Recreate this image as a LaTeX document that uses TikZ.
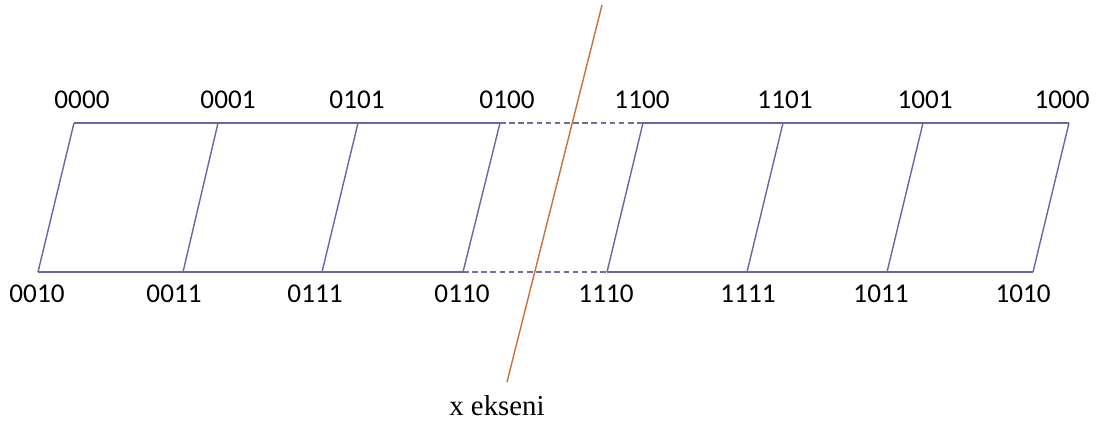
\documentclass[tikz,border=0pt]{standalone}
\usepackage{fontspec}
\setmainfont{Carlito}
\newfontfamily\axisfont{Liberation Serif}
\usepackage{xcolor}
\definecolor{edgepurple}{RGB}{112,98,168}
\definecolor{axisorange}{RGB}{204,112,52}

\begin{document}
\begin{tikzpicture}[x=0.025cm,y=-0.025cm,
    edge/.style={edgepurple,line width=1pt},
    gap/.style={edgepurple!70!gray,line width=1pt,dashed,dash pattern=on 4pt off 2.5pt},
    code/.style={font=\fontsize{19.3}{21}\selectfont,inner sep=0pt}]
  \useasboundingbox (0,0) rectangle (1105,424);
  % corners of the cells
  \foreach \x [count=\i] in {74,218,358,500,643,783,923,1069}
    \coordinate (t\i) at (\x,123);
  \foreach \x [count=\i] in {38,183,322,463,607,747,887,1033}
    \coordinate (b\i) at (\x,272);
  % gray codes
  \foreach \x/\s [count=\i] in {82/0000,228/0001,357/0101,507/0100,642/1100,785/1101,925/1001,1062/1000}
    \node[code] (lt\i) at (\x,100) {\s};
  \foreach \x/\s [count=\i] in {37/0010,174/0011,315/0111,462/0110,606/1110,748/1111,881/1011,1023/1010}
    \node[code] (lb\i) at (\x,294) {\s};
  \draw[edge] (t1) -- (t4) (t5) -- (t8);
  \draw[edge] (b1) -- (b4) (b5) -- (b8);
  \draw[gap] (t4) -- (t5) (b4) -- (b5);
  \foreach \i in {1,...,8}
    \draw[edge] (t\i) -- (b\i);
  % x axis
  \coordinate (xtop) at (602,5);
  \coordinate (xbot) at (507,382);
  \draw[axisorange,line width=1pt] (xtop) -- (xbot);
  \node[font=\axisfont\fontsize{20.5}{22}\selectfont,inner sep=0pt] (xlab) at (497,406) {x ekseni};
\end{tikzpicture}
\end{document}
